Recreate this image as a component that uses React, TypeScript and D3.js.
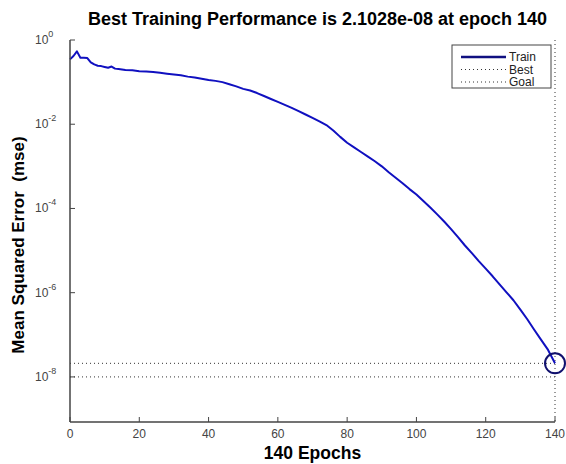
import React, { useEffect, useRef } from "react";
import * as d3 from "d3";

// training record (epoch, mse)
const epochs = [
  0, 1, 2, 3, 4, 5, 6, 7, 8, 9, 10, 11, 12, 13, 14, 16, 18, 20, 22, 24, 26, 28,
  30, 32, 34, 36, 38, 40, 42, 44, 46, 48, 50, 52, 54, 56, 58, 60, 62, 64, 66,
  68, 70, 72, 74, 76, 78, 80, 82, 84, 86, 88, 90, 92, 94, 96, 98, 100, 102, 104,
  106, 108, 110, 112, 114, 116, 118, 120, 122, 124, 126, 128, 130, 132, 134, 136,
  138, 140,
];
const trainMse = [
  0.347, 0.417, 0.537, 0.38, 0.38, 0.372, 0.295, 0.263, 0.245, 0.24, 0.229,
  0.219, 0.234, 0.209, 0.204, 0.195, 0.191, 0.182, 0.178, 0.174, 0.166, 0.158,
  0.151, 0.145, 0.135, 0.129, 0.12, 0.112, 0.107, 0.1, 0.0891, 0.0794, 0.0692,
  0.0631, 0.055, 0.0468, 0.0398, 0.0339, 0.0288, 0.0245, 0.0204, 0.017, 0.0141,
  0.0117, 0.00955, 0.00708, 0.00501, 0.00363, 0.00282, 0.00219, 0.0017, 0.00132,
  0.001, 7.24e-4, 5.37e-4, 3.98e-4, 2.88e-4, 2.14e-4, 1.51e-4, 1.05e-4, 7.24e-5,
  4.9e-5, 3.24e-5, 2.09e-5, 1.32e-5, 8.71e-6, 5.62e-6, 3.72e-6, 2.45e-6,
  1.58e-6, 1.02e-6, 6.61e-7, 3.98e-7, 2.34e-7, 1.32e-7, 7.59e-8, 4.37e-8,
  2.1028e-8,
];
const bestEpoch = 140;
const bestMse = 2.1028e-8;
const goalMse = 1e-8;

const xTicks = [0, 20, 40, 60, 80, 100, 120, 140];
const yTickExps = [0, -2, -4, -6, -8];
const legendItems = ["Train", "Best", "Goal"];

const FONT = "Arial, 'Liberation Sans', sans-serif";

export default function App() {
  const ref = useRef<SVGSVGElement>(null);

  useEffect(() => {
    const W = 566;
    const H = 464;
    const margin = { top: 40, right: 11, bottom: 42, left: 70 };
    const width = W - margin.left - margin.right;
    const height = H - margin.top - margin.bottom;

    const root = d3.select(ref.current);
    root.selectAll("*").remove();

    const svg = root
      .append("g")
      .attr("transform", `translate(${margin.left},${margin.top})`);

    const x = d3.scaleLinear().domain([0, 140]).range([0, width]);
    const y = d3.scaleLog().domain([8.5e-10, 1]).range([height, 0]);

    const axisColor = "#444";

    // best / goal reference lines
    svg
      .append("line")
      .attr("x1", 0)
      .attr("x2", width)
      .attr("y1", y(bestMse))
      .attr("y2", y(bestMse))
      .attr("stroke", "#333")
      .attr("stroke-dasharray", "1,3");
    svg
      .append("line")
      .attr("x1", 0)
      .attr("x2", width)
      .attr("y1", y(goalMse))
      .attr("y2", y(goalMse))
      .attr("stroke", "#333")
      .attr("stroke-dasharray", "1,3");
    svg
      .append("line")
      .attr("x1", x(bestEpoch))
      .attr("x2", x(bestEpoch))
      .attr("y1", 0)
      .attr("y2", height)
      .attr("stroke", "#333")
      .attr("stroke-dasharray", "1,3");

    // train curve
    const data = epochs.map((e, i) => ({ e, v: trainMse[i] }));
    const line = d3
      .line<{ e: number; v: number }>()
      .x((d) => x(d.e))
      .y((d) => y(d.v));
    svg
      .append("path")
      .datum(data)
      .attr("d", line)
      .attr("fill", "none")
      .attr("stroke", "#1010c0")
      .attr("stroke-width", 2)
      .attr("stroke-linejoin", "round");

    // best marker
    svg
      .append("circle")
      .attr("cx", x(bestEpoch))
      .attr("cy", y(bestMse))
      .attr("r", 10)
      .attr("fill", "none")
      .attr("stroke", "#10106e")
      .attr("stroke-width", 2);

    // axes (left + bottom only, ticks pointing in)
    svg
      .append("line")
      .attr("x1", 0)
      .attr("x2", 0)
      .attr("y1", 0)
      .attr("y2", height)
      .attr("stroke", axisColor)
      .attr("stroke-width", 1.5);
    svg
      .append("line")
      .attr("x1", 0)
      .attr("x2", width)
      .attr("y1", height)
      .attr("y2", height)
      .attr("stroke", axisColor)
      .attr("stroke-width", 1.5);

    xTicks.forEach((t) => {
      svg
        .append("line")
        .attr("x1", x(t))
        .attr("x2", x(t))
        .attr("y1", height)
        .attr("y2", height - 5)
        .attr("stroke", axisColor);
      svg
        .append("text")
        .attr("x", x(t))
        .attr("y", height + 16)
        .attr("text-anchor", "middle")
        .attr("font-family", FONT)
        .attr("font-size", 12)
        .attr("fill", "#444")
        .text(t);
    });

    yTickExps.forEach((p) => {
      const yy = y(Math.pow(10, p));
      svg
        .append("line")
        .attr("x1", 0)
        .attr("x2", 5)
        .attr("y1", yy)
        .attr("y2", yy)
        .attr("stroke", axisColor);
      const t = svg
        .append("text")
        .attr("x", -35)
        .attr("y", yy + 4)
        .attr("font-family", FONT)
        .attr("font-size", 12)
        .attr("fill", "#444");
      t.append("tspan").text("10");
      t.append("tspan")
        .attr("dy", -7)
        .attr("font-size", 9)
        .text(String(p));
    });

    // legend
    const lg = svg.append("g").attr("transform", `translate(${382},${5})`);
    lg.append("rect")
      .attr("width", 99)
      .attr("height", 43)
      .attr("fill", "#fff")
      .attr("stroke", "#444");
    legendItems.forEach((name, i) => {
      const ly = 12 + i * 12.5;
      lg.append("line")
        .attr("x1", 9)
        .attr("x2", 54)
        .attr("y1", ly)
        .attr("y2", ly)
        .attr("stroke", i === 0 ? "#101080" : "#333")
        .attr("stroke-width", i === 0 ? 2.5 : 1)
        .attr("stroke-dasharray", i === 0 ? null : "1,3");
      lg.append("text")
        .attr("x", 57)
        .attr("y", ly + 4)
        .attr("font-family", FONT)
        .attr("font-size", 12)
        .attr("fill", "#222")
        .text(name);
    });

    // title and labels
    svg
      .append("text")
      .attr("x", (width + 10) / 2)
      .attr("y", -15)
      .attr("text-anchor", "middle")
      .attr("font-family", FONT)
      .attr("font-weight", "bold")
      .attr("font-size", 18)
      .attr("fill", "#000")
      .text(`Best Training Performance is ${bestMse.toExponential(4).replace("e-8", "e-08")} at epoch ${bestEpoch}`);

    svg
      .append("text")
      .attr("x", width / 2)
      .attr("y", height + 37)
      .attr("text-anchor", "middle")
      .attr("font-family", FONT)
      .attr("font-weight", "bold")
      .attr("font-size", 17.5)
      .attr("fill", "#000")
      .text(`${bestEpoch} Epochs`);

    svg
      .append("text")
      .attr("transform", "rotate(-90)")
      .attr("x", -(height / 2) - 14)
      .attr("y", -46)
      .attr("text-anchor", "middle")
      .attr("font-family", FONT)
      .attr("font-weight", "bold")
      .attr("font-size", 17)
      .attr("fill", "#000")
      .style("white-space", "pre")
      .text("Mean Squared Error  (mse)");
  }, []);

  return (
    <svg
      ref={ref}
      width={566}
      height={464}
      style={{ position: "absolute", left: 0, top: 0, background: "#fff" }}
    />
  );
}
